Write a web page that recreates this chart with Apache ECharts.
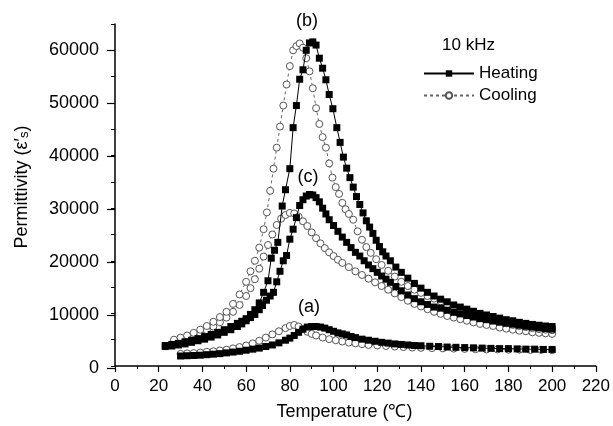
<!DOCTYPE html>
<html>
<head>
<meta charset="utf-8">
<script src="https://cdn.jsdelivr.net/npm/echarts@6/dist/echarts.min.js"></script>
<style>html,body{margin:0;padding:0;background:#fff;}#c{width:613px;height:426px;}</style>
</head>
<body>
<div id="c"></div>
<script>
// ---- data ----
const xTicks = [0, 20, 40, 60, 80, 100, 120, 140, 160, 180, 200, 220];
const yTicks = [0, 10000, 20000, 30000, 40000, 50000, 60000];

// (b) heating
const heatBT = [23,26,29,32,35,38,41,44,47,50,53,56,58,60,62,64,66,68,70,71.5,73,74.5,76.5,78,80,81.5,83,84.5,86,87.5,89,90.5,92,93.5,95,96.5,98,99.7,101.5,103,104.5,106,107.5,109,110.5,112,113.5,115,116.5,118,119.5,121,122.5,124,126,128.5,131,134,137,140,143,146,149,152,155,158,161,164,167,170,173,176,179,182,185,188,191,194,197,200];
const heatBV = [3900,4100,4300,4600,4900,5200,5600,6000,6400,6900,7500,8100,8500,9000,9800,10700,12000,14000,16200,20500,22000,23500,30400,33500,37500,45300,49500,54500,56300,60000,61400,61600,61000,58500,56600,54400,51600,48900,45300,42500,39700,37600,35800,34000,32200,30700,29100,27600,26400,25200,23900,22700,21700,20900,20000,18800,17800,16700,15700,14800,14000,13300,12700,12200,11600,11200,10800,10400,10000,9700,9400,9100,8800,8600,8300,8100,7900,7750,7600,7500];
// (c) heating
const heatCT = [23,26,29,32,35,38,41,44,47,50,53,56,58,60,62,64,66,67.5,69.3,71,72.5,74,75.5,77,78.5,80,81.5,83,84.5,86,87.5,89,90.5,92,93.5,95,96.5,98,100,102,104,106,108,110,112,114,116,118,120,122,124,126,128.5,131,134,137,140,143,146,149,152,155,158,161,164,167,170,173,176,179,182,185,188,191,194,197,200];
const heatCV = [3700,3800,4000,4200,4500,4800,5100,5500,5900,6400,6900,7500,8000,8600,9200,9800,10700,11500,12500,13300,14000,16000,18000,20000,21000,24100,26000,28200,30500,31600,32300,32600,32500,32000,31200,30000,28900,27800,26700,25600,24500,23500,22500,21600,20900,20000,19200,18500,17800,17100,16500,15900,15100,14300,13500,12800,12200,11700,11200,11000,10600,10200,9900,9600,9300,9000,8800,8550,8350,8150,7950,7750,7550,7400,7250,7100,7000];
// (a) heating
const heatAT = [30,33,36,39,42,45,48,51,54,57,60,63,66,69,72,75,78,80,82,84,86,88,90,92,94,96,98,100,102,104,106,108,110,113,116,119,122,125,128,131,134,137,140,144,148,152,156,160,164,168,172,176,180,184,188,192,196,200];
const heatAV = [1900,1950,2000,2050,2150,2250,2350,2500,2650,2800,3000,3200,3400,3700,4000,4400,4900,5300,5800,6400,7000,7400,7500,7500,7400,7200,6900,6600,6300,6100,5900,5600,5400,5100,4900,4700,4500,4350,4200,4100,4000,3900,3850,3750,3700,3600,3550,3500,3450,3400,3350,3300,3300,3250,3200,3200,3150,3150];
// (b) cooling
const coolBT = [27,30,33,36,39,42,45,48,51,54,57,60,62,64,66,68,69.5,71,72.5,74,75.5,77,78.5,80,81.5,83,84.5,86,87.5,89,90.5,92,93.5,95,96.5,98,99.5,101,102.5,104,105.5,107,109,111,113,115,117,119.5,122,125,128,131,134,137,140,143,146,149,152,155,158,161,164,167,170,173,176,179,182,185,188,191,194,197,200];
const coolBV = [5000,5400,5800,6300,6900,7600,8400,9300,10300,11800,13600,16000,18000,20000,22500,26000,29200,33300,37500,41500,45500,49500,53500,57000,60000,60800,61300,60500,58500,56000,52800,49000,46000,43500,41500,38500,35800,34000,32700,31000,29800,28900,27800,25600,24000,22600,21500,20300,19200,18100,17000,16000,15200,14500,13900,13300,12800,12300,11700,11200,10700,10200,9800,9400,9000,8700,8400,8100,7800,7600,7400,7200,7000,6900,6800];
// (c) cooling
const coolCT = [27,30,33,36,39,42,45,48,51,54,57,60,62,64,66,68,70,72,74,76,78,80,82,84,86,88,90,92,94,96,98,100,102,104,107,110,113,116,119,122,125,128,131,134,137,140,143,146,149,152,155,158,161,164,167,170,173,176,179,182,185,188,191,194,197,200];
const coolCV = [4600,4900,5300,5700,6200,6800,7500,8300,9200,10300,11600,13300,14800,16500,18500,20800,23000,25000,26800,28000,28700,29100,29000,28400,27500,26600,25400,24300,23300,22400,21600,20900,20200,19600,18800,18000,17300,16600,15900,15200,14500,13800,13100,12400,11800,11300,10800,10300,9900,9500,9200,8900,8600,8300,8000,7800,7600,7300,7100,6900,6700,6600,6400,6300,6200,6100];
// (a) cooling
const coolAT = [30,33,36,39,42,45,48,51,54,57,60,63,66,69,72,75,78,80,82,84,86,88,90,92,95,98,101,104,107,110,113,116,120,124,128,132,136,140,145,150,155,160,165,170,175,180,185,190,195,200];
const coolAV = [2300,2400,2450,2550,2700,2800,2950,3100,3350,3600,3900,4300,4800,5400,6000,6600,7200,7600,7800,7500,7000,6500,6100,5800,5400,5100,4900,4650,4450,4300,4150,4000,3900,3800,3700,3600,3500,3450,3400,3350,3300,3250,3200,3150,3150,3100,3100,3050,3050,3000];

const curveLabels = ['(b)', '(c)', '(a)'];
const legendTitle = '10 kHz';
const seriesNames = ['Heating', 'Cooling'];

// ---- build ----
const FONT = '"Liberation Sans", Arial, sans-serif';
const pairs = (t, v) => t.map((x, i) => [x, v[i]]);

function heating(t, v) {
  return {
    name: seriesNames[0], type: 'line', xAxisIndex: 0, yAxisIndex: 0,
    data: pairs(t, v), symbol: 'rect', symbolSize: 7, showSymbol: true, showAllSymbol: true,
    itemStyle: { color: '#000' }, lineStyle: { color: '#000', width: 1 }, z: 4
  };
}
function cooling(t, v) {
  return {
    name: seriesNames[1], type: 'line', xAxisIndex: 0, yAxisIndex: 0,
    data: pairs(t, v), symbol: 'circle', symbolSize: 7, showSymbol: true, showAllSymbol: true,
    itemStyle: { color: '#fff', borderColor: '#555', borderWidth: 1 },
    lineStyle: { color: '#666', width: 1, type: [3, 3] }, z: 3
  };
}

const chart = echarts.init(document.getElementById('c'), null, { renderer: 'canvas' });
const axisBlack = { lineStyle: { color: '#000', width: 1.5 } };
chart.setOption({
  animation: false,
  backgroundColor: '#fff',
  grid: [
    { left: 115, right: 16, top: 24, bottom: 58, containLabel: false },
    { left: 115, right: 16, top: 24 + 344 * 5 / 65, bottom: 58, containLabel: false }
  ],
  xAxis: [
    {
      gridIndex: 0, type: 'value', min: xTicks[0], max: xTicks[xTicks.length - 1], interval: 20,
      axisLine: axisBlack,
      axisTick: { show: true, length: 6, lineStyle: { color: '#000', width: 1.2 } },
      minorTick: { show: true, splitNumber: 2, length: 3, lineStyle: { color: '#000', width: 1 } },
      splitLine: { show: false },
      axisLabel: { color: '#000', fontSize: 17, fontFamily: FONT, margin: 12, formatter: v => String(v) },
      name: 'Temperature (℃)', nameLocation: 'middle', nameGap: 37,
      nameTextStyle: { color: '#000', fontSize: 18, fontFamily: FONT, padding: [0, 22, 0, 0] }
    },
    { gridIndex: 1, type: 'value', min: 0, max: 220, show: false }
  ],
  yAxis: [
    {
      gridIndex: 0, type: 'value', min: 0, max: 65000, interval: 5000,
      axisLine: { show: true, lineStyle: { color: '#000', width: 1.5 } },
      axisTick: { show: true, length: 4, lineStyle: { color: '#000', width: 1 } },
      axisLabel: { show: false },
      splitLine: { show: false },
      name: '{a|Permittivity (ε′}{b|s}{a|)}', nameLocation: 'middle', nameGap: 84, nameRotate: 90,
      nameTextStyle: {
        color: '#000', fontFamily: FONT, padding: [0, 0, 0, 16],
        rich: {
          a: { fontSize: 18, fontFamily: FONT, color: '#000' },
          b: { fontSize: 13, fontFamily: FONT, color: '#000', verticalAlign: 'bottom', padding: [4, 0, 0, 0] }
        }
      }
    },
    {
      gridIndex: 1, type: 'value', min: yTicks[0], max: yTicks[yTicks.length - 1], interval: 10000,
      axisLine: { show: false },
      axisTick: { show: true, length: 8, lineStyle: { color: '#000', width: 1.2 } },
      axisLabel: { color: '#000', fontSize: 18, fontFamily: FONT, margin: 16, formatter: v => String(v) },
      splitLine: { show: false }
    }
  ],
  legend: {
    data: seriesNames, orient: 'vertical', left: 418, top: 60,
    itemWidth: 50, itemHeight: 8, itemGap: 5,
    textStyle: { color: '#000', fontSize: 17, fontFamily: FONT, lineHeight: 17 }
  },
  graphic: [
    { type: 'text', left: 442, top: 37, style: { text: legendTitle, fill: '#000', font: '17px ' + FONT } },
    { type: 'text', x: 307, y: 21, style: { text: curveLabels[0], fill: '#000', font: '18px ' + FONT, align: 'center', verticalAlign: 'middle' } },
    { type: 'text', x: 308, y: 177, style: { text: curveLabels[1], fill: '#000', font: '18px ' + FONT, align: 'center', verticalAlign: 'middle' } },
    { type: 'text', x: 309, y: 307, style: { text: curveLabels[2], fill: '#000', font: '18px ' + FONT, align: 'center', verticalAlign: 'middle' } }
  ],
  series: [
    cooling(coolAT, coolAV), cooling(coolCT, coolCV), cooling(coolBT, coolBV),
    heating(heatAT, heatAV), heating(heatCT, heatCV), heating(heatBT, heatBV)
  ]
});
</script>
</body>
</html>
